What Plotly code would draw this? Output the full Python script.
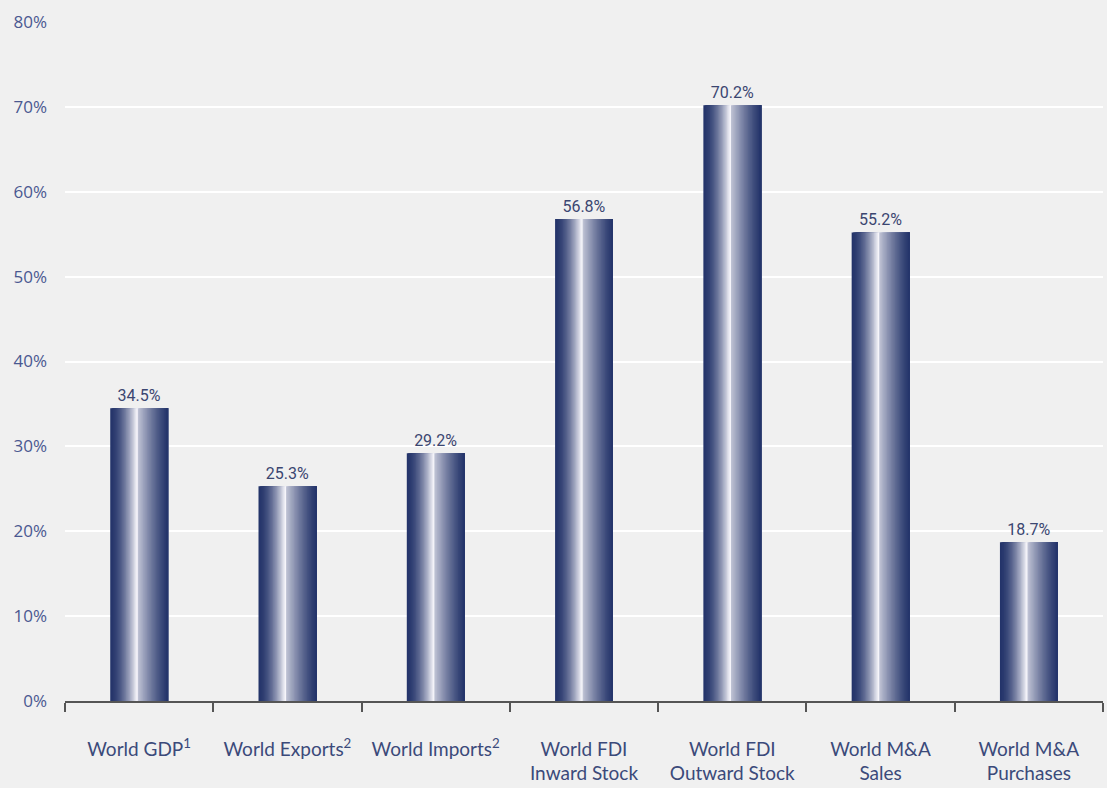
import plotly.graph_objects as go

categories = ["World GDP<sup>1</sup>", "World Exports<sup>2</sup>", "World Imports<sup>2</sup>",
              "World FDI<br>Inward Stock", "World FDI<br>Outward Stock",
              "World M&A<br>Sales", "World M&A<br>Purchases"]
values = [34.5, 25.3, 29.2, 56.8, 70.2, 55.2, 18.7]
value_labels = ["34.5%", "25.3%", "29.2%", "56.8%", "70.2%", "55.2%", "18.7%"]
y_ticks = [0, 10, 20, 30, 40, 50, 60, 70, 80]
y_tick_labels = ["0%", "10%", "20%", "30%", "40%", "50%", "60%", "70%", "80%"]

NAVY = (36, 52, 106)
WHITE = (246, 245, 250)
BAR_W = 0.39
N = 44
PEAK = 0.46


def mix(f):
    return "rgb(%d,%d,%d)" % tuple(round(NAVY[k] + (WHITE[k] - NAVY[k]) * f) for k in range(3))


def shade(t):
    if t <= PEAK:
        return (t / PEAK) ** 1.7
    d = (t - PEAK) / (1 - PEAK)
    if d < 0.04:
        return 1.0
    return 0.78 * (1 - d) ** 1.25


fig = go.Figure()
step = BAR_W / N
for i in range(N):
    t = (i + 0.5) / N
    fig.add_trace(go.Bar(
        x=categories, y=values,
        offset=-BAR_W / 2 + i * step,
        width=BAR_W - i * step,
        marker=dict(color=mix(shade(t)), line=dict(width=0)),
        hoverinfo="skip", showlegend=False,
    ))

fig.add_trace(go.Bar(
    x=categories, y=values, width=BAR_W,
    marker=dict(color="rgba(0,0,0,0)", line=dict(width=0)),
    text=value_labels, textposition="outside", constraintext="none",
    cliponaxis=False,
    textfont=dict(family="Roboto", size=16, color="#3b4670"),
    showlegend=False,
))

fig.update_layout(
    barmode="overlay",
    width=1107, height=788,
    margin=dict(l=65, r=4, t=22, b=87, autoexpand=False),
    paper_bgcolor="#f0f0f0", plot_bgcolor="#f0f0f0",
    font=dict(family="Lato", color="#3b4a7a"),
)
fig.update_xaxes(
    type="category", automargin=False,
    tickson="boundaries", ticks="outside", ticklen=9, tickcolor="#555555",
    tickwidth=1.5,
    showline=True, linecolor="#555555", linewidth=1.5,
    showgrid=False, ticklabelstandoff=30,
    tickfont=dict(family="Lato", size=19, color="#3b4a7a"),
)
fig.update_yaxes(
    range=[0, 80], tickmode="array", tickvals=y_ticks, ticktext=y_tick_labels,
    automargin=False,
    showgrid=True, gridcolor="#ffffff", gridwidth=2,
    zeroline=False, showline=False, ticks="",
    ticklabelstandoff=17,
    tickfont=dict(family="Open Sans", size=17, color="#4a5890"),
)

fig.write_html("out.html")
